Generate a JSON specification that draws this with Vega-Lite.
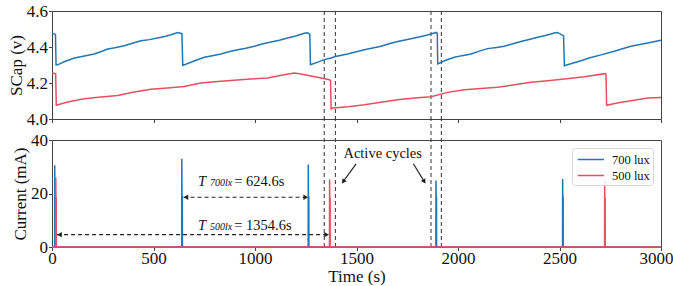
{
  "$schema": "https://vega.github.io/schema/vega-lite/v6.json",
  "padding": {"left": 6, "top": 1, "right": 0, "bottom": 0},
  "bounds": "flush",
  "spacing": 21,
  "config": {
    "font": "Liberation Serif",
    "view": {"stroke": "#444", "strokeWidth": 1},
    "axis": {
      "grid": false, "domain": false, "tickColor": "#444", "tickSize": 3.5,
      "labelFont": "Liberation Serif", "labelFontSize": 17, "labelColor": "#111",
      "titleFont": "Liberation Serif", "titleFontSize": 17, "titleFontWeight": "normal", "titleColor": "#111",
      "labelPadding": 1
    }
  },
  "datasets": {
    "vlines": [{"t": 1341}, {"t": 1396}, {"t": 1867}, {"t": 1918}],
    "scap": [
      {"series": "700 lux", "t": 0, "v": 4.478}, {"series": "700 lux", "t": 17, "v": 4.470}, {"series": "700 lux", "t": 20, "v": 4.300},
      {"series": "700 lux", "t": 28, "v": 4.301}, {"series": "700 lux", "t": 60, "v": 4.318}, {"series": "700 lux", "t": 110, "v": 4.339},
      {"series": "700 lux", "t": 160, "v": 4.350}, {"series": "700 lux", "t": 208, "v": 4.361}, {"series": "700 lux", "t": 240, "v": 4.374},
      {"series": "700 lux", "t": 274, "v": 4.389}, {"series": "700 lux", "t": 310, "v": 4.396}, {"series": "700 lux", "t": 356, "v": 4.407},
      {"series": "700 lux", "t": 400, "v": 4.422}, {"series": "700 lux", "t": 438, "v": 4.435}, {"series": "700 lux", "t": 480, "v": 4.441},
      {"series": "700 lux", "t": 520, "v": 4.450}, {"series": "700 lux", "t": 560, "v": 4.460}, {"series": "700 lux", "t": 586, "v": 4.468},
      {"series": "700 lux", "t": 619, "v": 4.481}, {"series": "700 lux", "t": 640, "v": 4.474}, {"series": "700 lux", "t": 644, "v": 4.298},
      {"series": "700 lux", "t": 700, "v": 4.322}, {"series": "700 lux", "t": 750, "v": 4.343}, {"series": "700 lux", "t": 790, "v": 4.352},
      {"series": "700 lux", "t": 832, "v": 4.361}, {"series": "700 lux", "t": 870, "v": 4.374}, {"series": "700 lux", "t": 915, "v": 4.385},
      {"series": "700 lux", "t": 955, "v": 4.393}, {"series": "700 lux", "t": 997, "v": 4.404}, {"series": "700 lux", "t": 1040, "v": 4.418},
      {"series": "700 lux", "t": 1079, "v": 4.428}, {"series": "700 lux", "t": 1120, "v": 4.437}, {"series": "700 lux", "t": 1161, "v": 4.450},
      {"series": "700 lux", "t": 1200, "v": 4.461}, {"series": "700 lux", "t": 1243, "v": 4.476}, {"series": "700 lux", "t": 1259, "v": 4.479},
      {"series": "700 lux", "t": 1270, "v": 4.470}, {"series": "700 lux", "t": 1273, "v": 4.302}, {"series": "700 lux", "t": 1310, "v": 4.316},
      {"series": "700 lux", "t": 1341, "v": 4.330}, {"series": "700 lux", "t": 1374, "v": 4.339}, {"series": "700 lux", "t": 1396, "v": 4.347},
      {"series": "700 lux", "t": 1456, "v": 4.361}, {"series": "700 lux", "t": 1500, "v": 4.374}, {"series": "700 lux", "t": 1539, "v": 4.385},
      {"series": "700 lux", "t": 1580, "v": 4.394}, {"series": "700 lux", "t": 1621, "v": 4.404}, {"series": "700 lux", "t": 1660, "v": 4.418},
      {"series": "700 lux", "t": 1703, "v": 4.431}, {"series": "700 lux", "t": 1745, "v": 4.440}, {"series": "700 lux", "t": 1785, "v": 4.450},
      {"series": "700 lux", "t": 1830, "v": 4.461}, {"series": "700 lux", "t": 1867, "v": 4.472}, {"series": "700 lux", "t": 1893, "v": 4.481},
      {"series": "700 lux", "t": 1898, "v": 4.476}, {"series": "700 lux", "t": 1900, "v": 4.306}, {"series": "700 lux", "t": 1940, "v": 4.326},
      {"series": "700 lux", "t": 1982, "v": 4.343}, {"series": "700 lux", "t": 2020, "v": 4.352}, {"series": "700 lux", "t": 2064, "v": 4.361},
      {"series": "700 lux", "t": 2105, "v": 4.377}, {"series": "700 lux", "t": 2146, "v": 4.391}, {"series": "700 lux", "t": 2190, "v": 4.397},
      {"series": "700 lux", "t": 2228, "v": 4.404}, {"series": "700 lux", "t": 2270, "v": 4.418}, {"series": "700 lux", "t": 2310, "v": 4.431},
      {"series": "700 lux", "t": 2350, "v": 4.442}, {"series": "700 lux", "t": 2393, "v": 4.454}, {"series": "700 lux", "t": 2435, "v": 4.465},
      {"series": "700 lux", "t": 2474, "v": 4.478}, {"series": "700 lux", "t": 2490, "v": 4.481}, {"series": "700 lux", "t": 2520, "v": 4.462},
      {"series": "700 lux", "t": 2524, "v": 4.296}, {"series": "700 lux", "t": 2560, "v": 4.308}, {"series": "700 lux", "t": 2606, "v": 4.324},
      {"series": "700 lux", "t": 2650, "v": 4.340}, {"series": "700 lux", "t": 2700, "v": 4.355}, {"series": "700 lux", "t": 2770, "v": 4.376},
      {"series": "700 lux", "t": 2810, "v": 4.390}, {"series": "700 lux", "t": 2852, "v": 4.404}, {"series": "700 lux", "t": 2890, "v": 4.412},
      {"series": "700 lux", "t": 2934, "v": 4.422}, {"series": "700 lux", "t": 2970, "v": 4.430}, {"series": "700 lux", "t": 3000, "v": 4.437},
      {"series": "500 lux", "t": 0, "v": 4.256}, {"series": "500 lux", "t": 18, "v": 4.252}, {"series": "500 lux", "t": 21, "v": 4.076},
      {"series": "500 lux", "t": 77, "v": 4.094}, {"series": "500 lux", "t": 159, "v": 4.113}, {"series": "500 lux", "t": 241, "v": 4.122},
      {"series": "500 lux", "t": 323, "v": 4.131}, {"series": "500 lux", "t": 405, "v": 4.150}, {"series": "500 lux", "t": 487, "v": 4.165},
      {"series": "500 lux", "t": 569, "v": 4.172}, {"series": "500 lux", "t": 651, "v": 4.181}, {"series": "500 lux", "t": 733, "v": 4.200},
      {"series": "500 lux", "t": 815, "v": 4.209}, {"series": "500 lux", "t": 897, "v": 4.215}, {"series": "500 lux", "t": 979, "v": 4.222},
      {"series": "500 lux", "t": 1062, "v": 4.228}, {"series": "500 lux", "t": 1144, "v": 4.246}, {"series": "500 lux", "t": 1193, "v": 4.256},
      {"series": "500 lux", "t": 1226, "v": 4.250}, {"series": "500 lux", "t": 1308, "v": 4.232}, {"series": "500 lux", "t": 1366, "v": 4.218},
      {"series": "500 lux", "t": 1372, "v": 4.214}, {"series": "500 lux", "t": 1375, "v": 4.056}, {"series": "500 lux", "t": 1383, "v": 4.061},
      {"series": "500 lux", "t": 1460, "v": 4.068}, {"series": "500 lux", "t": 1539, "v": 4.079}, {"series": "500 lux", "t": 1620, "v": 4.093},
      {"series": "500 lux", "t": 1703, "v": 4.107}, {"series": "500 lux", "t": 1785, "v": 4.117}, {"series": "500 lux", "t": 1867, "v": 4.124},
      {"series": "500 lux", "t": 1949, "v": 4.148}, {"series": "500 lux", "t": 2031, "v": 4.163}, {"series": "500 lux", "t": 2113, "v": 4.170},
      {"series": "500 lux", "t": 2195, "v": 4.176}, {"series": "500 lux", "t": 2278, "v": 4.190}, {"series": "500 lux", "t": 2360, "v": 4.204},
      {"series": "500 lux", "t": 2442, "v": 4.213}, {"series": "500 lux", "t": 2524, "v": 4.222}, {"series": "500 lux", "t": 2622, "v": 4.235},
      {"series": "500 lux", "t": 2724, "v": 4.252}, {"series": "500 lux", "t": 2729, "v": 4.250}, {"series": "500 lux", "t": 2732, "v": 4.076},
      {"series": "500 lux", "t": 2790, "v": 4.090}, {"series": "500 lux", "t": 2852, "v": 4.102}, {"series": "500 lux", "t": 2934, "v": 4.117},
      {"series": "500 lux", "t": 3000, "v": 4.120}
    ],
    "current": [
      {"series": "700 lux", "t": 0, "i": 0},
      {"series": "700 lux", "t": 13, "i": 0}, {"series": "700 lux", "t": 13.5, "i": 30.6}, {"series": "700 lux", "t": 14.3, "i": 19}, {"series": "700 lux", "t": 16, "i": 19}, {"series": "700 lux", "t": 16.5, "i": 0},
      {"series": "700 lux", "t": 639, "i": 0}, {"series": "700 lux", "t": 639.5, "i": 33}, {"series": "700 lux", "t": 640.3, "i": 19}, {"series": "700 lux", "t": 642, "i": 19}, {"series": "700 lux", "t": 642.5, "i": 0},
      {"series": "700 lux", "t": 1262, "i": 0}, {"series": "700 lux", "t": 1262.5, "i": 30.8}, {"series": "700 lux", "t": 1263.3, "i": 18.7}, {"series": "700 lux", "t": 1265, "i": 18.7}, {"series": "700 lux", "t": 1265.5, "i": 0},
      {"series": "700 lux", "t": 1891, "i": 0}, {"series": "700 lux", "t": 1891.5, "i": 24.9}, {"series": "700 lux", "t": 1892.3, "i": 18.6}, {"series": "700 lux", "t": 1894, "i": 18.6}, {"series": "700 lux", "t": 1894.5, "i": 0},
      {"series": "700 lux", "t": 2515, "i": 0}, {"series": "700 lux", "t": 2515.5, "i": 25.4}, {"series": "700 lux", "t": 2516.3, "i": 18.6}, {"series": "700 lux", "t": 2518, "i": 18.6}, {"series": "700 lux", "t": 2518.5, "i": 0},
      {"series": "700 lux", "t": 3000, "i": 0},
      {"series": "500 lux", "t": 0, "i": 0},
      {"series": "500 lux", "t": 18, "i": 0}, {"series": "500 lux", "t": 18.5, "i": 26}, {"series": "500 lux", "t": 19.3, "i": 18.3}, {"series": "500 lux", "t": 21, "i": 18.3}, {"series": "500 lux", "t": 21.5, "i": 0},
      {"series": "500 lux", "t": 1367, "i": 0}, {"series": "500 lux", "t": 1367.5, "i": 25.2}, {"series": "500 lux", "t": 1368.3, "i": 18}, {"series": "500 lux", "t": 1370, "i": 18}, {"series": "500 lux", "t": 1370.5, "i": 0},
      {"series": "500 lux", "t": 2722, "i": 0}, {"series": "500 lux", "t": 2722.5, "i": 25.2}, {"series": "500 lux", "t": 2723.3, "i": 18}, {"series": "500 lux", "t": 2725, "i": 18}, {"series": "500 lux", "t": 2725.5, "i": 0},
      {"series": "500 lux", "t": 3000, "i": 0}
    ]
  },
  "vconcat": [
    {
      "width": 609, "height": 108,
      "layer": [
        {
          "data": {"name": "vlines"},
          "mark": {"type": "rule", "strokeDash": [4, 3], "color": "#333", "strokeWidth": 1},
          "encoding": {"x": {"field": "t", "type": "quantitative", "scale": {"domain": [0, 3000]}}}
        },
        {
          "data": {"name": "scap"},
          "mark": {"type": "line", "strokeWidth": 1.5},
          "encoding": {
            "x": {"field": "t", "type": "quantitative", "scale": {"domain": [0, 3000]},
                  "axis": {"values": [0, 500, 1000, 1500, 2000, 2500, 3000], "labels": false, "title": null}},
            "y": {"field": "v", "type": "quantitative", "scale": {"domain": [4.0, 4.6]},
                  "axis": {"values": [4.0, 4.2, 4.4, 4.6], "format": ".1f", "title": "SCap (v)", "titlePadding": 1}},
            "color": {"field": "series", "type": "nominal", "scale": {"domain": ["700 lux", "500 lux"], "range": ["#1f77b4", "#e6505f"]}, "legend": null}
          }
        }
      ]
    },
    {
      "width": 609, "height": 107,
      "layer": [
        {
          "data": {"name": "vlines"},
          "mark": {"type": "rule", "strokeDash": [4, 3], "color": "#333", "strokeWidth": 1, "clip": false},
          "encoding": {
            "x": {"field": "t", "type": "quantitative", "scale": {"domain": [0, 3000]}},
            "y": {"datum": 0, "type": "quantitative", "scale": {"domain": [0, 40]}},
            "y2": {"datum": 48}
          }
        },
        {
          "data": {"name": "current"},
          "mark": {"type": "line", "strokeWidth": 1.5},
          "encoding": {
            "x": {"field": "t", "type": "quantitative", "scale": {"domain": [0, 3000]},
                  "axis": {"values": [0, 500, 1000, 1500, 2000, 2500, 3000], "format": "d", "title": "Time (s)", "titlePadding": 1.5, "labelPadding": 0,
                           "labelAlign": {"expr": "datum.value == 3000 ? 'right' : 'center'"},
                           "labelOffset": {"expr": "datum.value == 3000 ? 12 : 0"}}},
            "y": {"field": "i", "type": "quantitative", "scale": {"domain": [0, 40]},
                  "axis": {"values": [0, 20, 40], "title": "Current (mA)", "titlePadding": 1}},
            "color": {"field": "series", "type": "nominal", "scale": {"domain": ["700 lux", "500 lux"], "range": ["#1f77b4", "#e6505f"]},
                      "legend": {"orient": "top-right", "offset": 8, "title": null, "symbolType": "M-0.77,0H2.73", "symbolSize": 225,
                                 "symbolStrokeWidth": 1.5, "labelFontSize": 12.5, "labelFont": "Liberation Serif", "labelColor": "#111",
                                 "strokeColor": "#d4d4d4", "fillColor": "rgba(255,255,255,0.85)", "padding": 3, "cornerRadius": 3,
                                 "rowPadding": 1, "labelOffset": 20}}
          }
        },
        {
          "data": {"values": [{"t1": 648, "t2": 1262, "y": 18.6}, {"t1": 25, "t2": 1365, "y": 4.6}]},
          "mark": {"type": "rule", "strokeDash": [4, 3], "color": "#222", "strokeWidth": 1.2},
          "encoding": {"x": {"field": "t1", "type": "quantitative"}, "x2": {"field": "t2"}, "y": {"field": "y", "type": "quantitative"}}
        },
        {
          "data": {"values": [{"t": 660, "y": 18.6}, {"t": 37, "y": 4.6}]},
          "mark": {"type": "point", "shape": "triangle-left", "filled": true, "color": "#222", "size": 28, "opacity": 1},
          "encoding": {"x": {"field": "t", "type": "quantitative"}, "y": {"field": "y", "type": "quantitative"}}
        },
        {
          "data": {"values": [{"t": 1250, "y": 18.6}, {"t": 1353, "y": 4.6}]},
          "mark": {"type": "point", "shape": "triangle-right", "filled": true, "color": "#222", "size": 28, "opacity": 1},
          "encoding": {"x": {"field": "t", "type": "quantitative"}, "y": {"field": "y", "type": "quantitative"}}
        },
        {
          "data": {"values": [{"t1": 1498, "y1": 31.1, "t2": 1432, "y2": 24.2}, {"t1": 1780, "y1": 31.1, "t2": 1836, "y2": 24.2}]},
          "mark": {"type": "rule", "color": "#222", "strokeWidth": 1.2},
          "encoding": {"x": {"field": "t1", "type": "quantitative"}, "x2": {"field": "t2"}, "y": {"field": "y1", "type": "quantitative"}, "y2": {"field": "y2"}}
        },
        {
          "data": {"values": [{"t": 1437, "y": 24.7}]},
          "mark": {"type": "point", "shape": "triangle", "angle": 216, "filled": true, "color": "#222", "size": 28, "opacity": 1},
          "encoding": {"x": {"field": "t", "type": "quantitative"}, "y": {"field": "y", "type": "quantitative"}}
        },
        {
          "data": {"values": [{"t": 1832, "y": 24.7}]},
          "mark": {"type": "point", "shape": "triangle", "angle": 148, "filled": true, "color": "#222", "size": 28, "opacity": 1},
          "encoding": {"x": {"field": "t", "type": "quantitative"}, "y": {"field": "y", "type": "quantitative"}}
        },
        {
          "data": {"values": [{"t": 1629, "y": 33.3, "label": "Active cycles"}]},
          "mark": {"type": "text", "font": "Liberation Serif", "fontSize": 14.5, "align": "center", "baseline": "alphabetic", "color": "#111"},
          "encoding": {"x": {"field": "t", "type": "quantitative"}, "y": {"field": "y", "type": "quantitative"}, "text": {"field": "label"}}
        },
        {
          "data": {"values": [{"t": 719, "y": 22.9, "label": "T"}, {"t": 719, "y": 6.5, "label": "T"}]},
          "mark": {"type": "text", "font": "Liberation Serif", "fontSize": 14.5, "fontStyle": "italic", "align": "left", "baseline": "alphabetic", "color": "#111"},
          "encoding": {"x": {"field": "t", "type": "quantitative"}, "y": {"field": "y", "type": "quantitative"}, "text": {"field": "label"}}
        },
        {
          "data": {"values": [{"t": 778, "y": 22.9, "label": "700lx"}, {"t": 778, "y": 6.5, "label": "500lx"}]},
          "mark": {"type": "text", "font": "Liberation Serif", "fontSize": 10, "fontStyle": "italic", "align": "left", "baseline": "alphabetic", "color": "#111"},
          "encoding": {"x": {"field": "t", "type": "quantitative"}, "y": {"field": "y", "type": "quantitative"}, "text": {"field": "label"}}
        },
        {
          "data": {"values": [{"t": 898, "y": 22.9, "label": "= 624.6s"}, {"t": 898, "y": 6.5, "label": "= 1354.6s"}]},
          "mark": {"type": "text", "font": "Liberation Serif", "fontSize": 14.5, "align": "left", "baseline": "alphabetic", "color": "#111"},
          "encoding": {"x": {"field": "t", "type": "quantitative"}, "y": {"field": "y", "type": "quantitative"}, "text": {"field": "label"}}
        }
      ]
    }
  ],
  "resolve": {"legend": {"color": "independent"}}
}
